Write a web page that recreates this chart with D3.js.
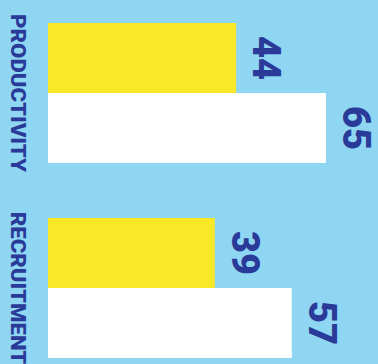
<!DOCTYPE html>
<html>
<head>
<meta charset="utf-8">
<script src="https://cdn.jsdelivr.net/npm/d3@7"></script>
<style>
  html, body { margin: 0; padding: 0; background: #8fd6f3; }
  svg { display: block; }
</style>
</head>
<body>
<script>
const categories = ["PRODUCTIVITY", "RECRUITMENT"];
const seriesNames = ["Series A", "Series B"];
const seriesAValues = [44, 39];
const seriesBValues = [65, 57];
const seriesColors = ["#fae826", "#ffffff"];

const W = 378, H = 364;
const textColor = "#2a3a98";
const fontFamily = "Roboto, 'Open Sans', 'DejaVu Sans', sans-serif";

const svg = d3.select("body").append("svg")
  .attr("width", W).attr("height", H);

svg.append("rect").attr("width", W).attr("height", H).attr("fill", "#8fd6f3");

const rows = categories.map((c, i) => ({
  category: c,
  values: [seriesAValues[i], seriesBValues[i]]
}));

const y0 = d3.scaleBand().domain(categories).range([23, 358]).paddingInner(55 / 195);
const y1 = d3.scaleBand().domain(seriesNames).range([0, y0.bandwidth()]);
const x = d3.scaleLinear().domain([0, 65]).range([48, 326]);

const groups = svg.selectAll("g.group").data(rows).join("g")
  .attr("class", "group")
  .attr("transform", d => `translate(0,${y0(d.category)})`);

groups.selectAll("rect.bar")
  .data(d => d.values.map((v, j) => ({ v, s: seriesNames[j], c: seriesColors[j] })))
  .join("rect")
  .attr("class", "bar")
  .attr("x", x(0))
  .attr("y", d => y1(d.s))
  .attr("width", d => x(d.v) - x(0))
  .attr("height", y1.bandwidth())
  .attr("fill", d => d.c);

groups.selectAll("text.val")
  .data(d => d.values.map((v, j) => ({ v, s: seriesNames[j] })))
  .join("text")
  .attr("class", "val")
  .attr("transform", d => `translate(${x(d.v) + 17},${y1(d.s) + y1.bandwidth() / 2}) rotate(90)`)
  .attr("text-anchor", "middle")
  .attr("fill", textColor)
  .attr("font-family", fontFamily)
  .attr("font-weight", 900)
  .attr("font-size", 38)
  .text(d => d.v);

// category labels
const catLabels = svg.selectAll("text.cat").data(rows).join("text")
  .attr("class", "cat")
  .attr("text-anchor", "middle")
  .attr("fill", textColor)
  .attr("font-family", fontFamily)
  .attr("font-weight", 900)
  .attr("font-size", 21)
  .text(d => d.category);

const natural = catLabels.nodes()[0].getComputedTextLength();
const k = 158 / natural;
catLabels.attr("transform", d => `translate(11,${y0(d.category) + y0.bandwidth() / 2}) rotate(90) scale(${k},1)`);
</script>
</body>
</html>
